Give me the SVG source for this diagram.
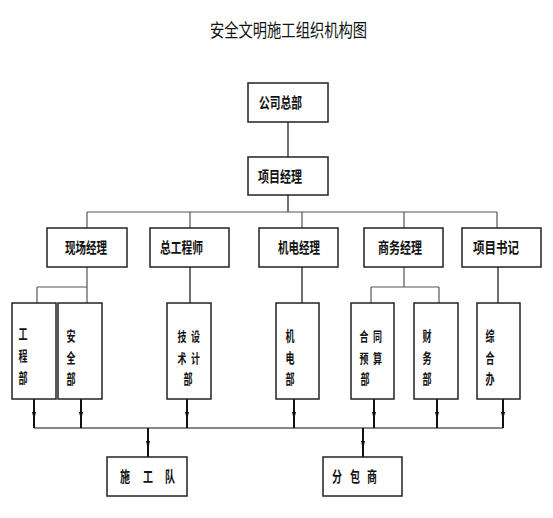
<svg xmlns="http://www.w3.org/2000/svg" width="553" height="518" viewBox="0 0 553 518">
<style>
.box{fill:#fff;stroke:#222;stroke-width:1.5}
.t{font-family:"Noto Sans CJK SC","Noto Sans CJK TC",sans-serif;font-size:15px;font-weight:bold;fill:#111}
.v{font-size:14px}
.w{font-size:13px}
.c{text-anchor:middle}
.ln{fill:none;stroke:#111;stroke-width:1.2}
.gl{fill:none;stroke:#555;stroke-width:1.2}
.al{fill:none;stroke:#111;stroke-width:2}
.ah{fill:#111}
</style>
<rect width="553" height="518" fill="#fff"/>
<text class="t" x="210" y="37" style="font-size:18px;font-weight:normal" textLength="157" lengthAdjust="spacingAndGlyphs">安全文明施工组织机构图</text>
<g id="connectors">
<path class="ln" d="M288 122V157M288 195V212"/>
<path class="gl" d="M87 212H497M87 212V228M190 212V228M302 212V228M404 212V228M497 212V228"/>
<path class="gl" d="M87 267V287M37 287H87M37 287V303M87 287V303"/>
<path class="ln" d="M190 267V303M302 267V303M498 267V303"/>
<path class="gl" d="M404 267V287M371 287H439M371 287V303M439 287V303"/>
<path class="al" d="M34 399V428M81 399V428M187 399V428M294 399V428M374 399V428M437 399V428M503 399V428"/>
<path class="ln" d="M34 428H503"/>
<path class="al" d="M148 428V457M363 428V457"/>
<g class="ah">
<path d="M32 412H36L34 420Z"/><path d="M79 412H83L81 420Z"/><path d="M185 412H189L187 420Z"/><path d="M292 412H296L294 420Z"/><path d="M372 412H376L374 420Z"/><path d="M435 412H439L437 420Z"/><path d="M501 412H505L503 420Z"/>
<path d="M146 441H150L148 449Z"/><path d="M361 441H365L363 449Z"/>
</g>
</g>
<g id="n-gszb"><rect class="box" x="248" y="83" width="80" height="39"/><text class="t" x="259" y="108" textLength="43" lengthAdjust="spacingAndGlyphs">公司总部</text></g>
<g id="n-xmjl"><rect class="box" x="248" y="157" width="80" height="38"/><text class="t" x="258" y="182" textLength="44" lengthAdjust="spacingAndGlyphs">项目经理</text></g>
<g id="n-xcjl"><rect class="box" x="47" y="228" width="80" height="39"/><text class="t" x="65" y="253" textLength="42" lengthAdjust="spacingAndGlyphs">现场经理</text></g>
<g id="n-zgcs"><rect class="box" x="150" y="228" width="79" height="39"/><text class="t" x="160" y="253" textLength="43" lengthAdjust="spacingAndGlyphs">总工程师</text></g>
<g id="n-jdjl"><rect class="box" x="259" y="228" width="79" height="39"/><text class="t" x="278" y="253" textLength="42" lengthAdjust="spacingAndGlyphs">机电经理</text></g>
<g id="n-swjl"><rect class="box" x="364" y="228" width="79" height="39"/><text class="t" x="378" y="253" textLength="44" lengthAdjust="spacingAndGlyphs">商务经理</text></g>
<g id="n-xmsj"><rect class="box" x="462" y="228" width="79" height="39"/><text class="t" x="473" y="253" textLength="46" lengthAdjust="spacingAndGlyphs">项目书记</text></g>
<g id="n-gcb"><rect class="box" x="12" y="303" width="44" height="96"/>
<text class="t v c" x="23" y="339" textLength="9" lengthAdjust="spacingAndGlyphs">工</text>
<text class="t v c" x="23" y="361" textLength="9" lengthAdjust="spacingAndGlyphs">程</text>
<text class="t v c" x="23" y="383" textLength="9" lengthAdjust="spacingAndGlyphs">部</text></g>
<g id="n-aqb"><rect class="box" x="58" y="303" width="44" height="96"/>
<text class="t v c" x="71" y="341" textLength="9" lengthAdjust="spacingAndGlyphs">安</text>
<text class="t v c" x="71" y="363" textLength="9" lengthAdjust="spacingAndGlyphs">全</text>
<text class="t v c" x="71" y="384" textLength="9" lengthAdjust="spacingAndGlyphs">部</text></g>
<g id="n-jssjb"><rect class="box" x="167" y="303" width="44" height="96"/>
<text class="t w c" x="182" y="341" textLength="9" lengthAdjust="spacingAndGlyphs">技</text>
<text class="t w c" x="195.5" y="341" textLength="9" lengthAdjust="spacingAndGlyphs">设</text>
<text class="t w c" x="182" y="363" textLength="9" lengthAdjust="spacingAndGlyphs">术</text>
<text class="t w c" x="195.5" y="363" textLength="9" lengthAdjust="spacingAndGlyphs">计</text>
<text class="t v c" x="188" y="384" textLength="9" lengthAdjust="spacingAndGlyphs">部</text></g>
<g id="n-jdb"><rect class="box" x="276" y="303" width="43" height="96"/>
<text class="t v c" x="290" y="341" textLength="9" lengthAdjust="spacingAndGlyphs">机</text>
<text class="t v c" x="290" y="363" textLength="9" lengthAdjust="spacingAndGlyphs">电</text>
<text class="t v c" x="290" y="384" textLength="9" lengthAdjust="spacingAndGlyphs">部</text></g>
<g id="n-htysb"><rect class="box" x="351" y="303" width="43" height="96"/>
<text class="t w c" x="364" y="341" textLength="9" lengthAdjust="spacingAndGlyphs">合</text>
<text class="t w c" x="377.5" y="341" textLength="9" lengthAdjust="spacingAndGlyphs">同</text>
<text class="t w c" x="364" y="363" textLength="9" lengthAdjust="spacingAndGlyphs">预</text>
<text class="t w c" x="377.5" y="363" textLength="9" lengthAdjust="spacingAndGlyphs">算</text>
<text class="t v c" x="365" y="384" textLength="9" lengthAdjust="spacingAndGlyphs">部</text></g>
<g id="n-cwb"><rect class="box" x="414" y="303" width="44" height="96"/>
<text class="t v c" x="427" y="341" textLength="9" lengthAdjust="spacingAndGlyphs">财</text>
<text class="t v c" x="427" y="363" textLength="9" lengthAdjust="spacingAndGlyphs">务</text>
<text class="t v c" x="427" y="384" textLength="9" lengthAdjust="spacingAndGlyphs">部</text></g>
<g id="n-zhb"><rect class="box" x="477" y="303" width="43" height="96"/>
<text class="t v c" x="490" y="341" textLength="9" lengthAdjust="spacingAndGlyphs">综</text>
<text class="t v c" x="490" y="363" textLength="9" lengthAdjust="spacingAndGlyphs">合</text>
<text class="t v c" x="490" y="384" textLength="9" lengthAdjust="spacingAndGlyphs">办</text></g>
<g id="n-sgd"><rect class="box" x="107" y="457" width="80" height="39"/>
<text class="t c" x="125" y="482" textLength="10" lengthAdjust="spacingAndGlyphs">施</text>
<text class="t c" x="148" y="482" textLength="10" lengthAdjust="spacingAndGlyphs">工</text>
<text class="t c" x="170" y="482" textLength="10" lengthAdjust="spacingAndGlyphs">队</text></g>
<g id="n-fbs"><rect class="box" x="323" y="457" width="79" height="39"/>
<text class="t c" x="337" y="482" textLength="10" lengthAdjust="spacingAndGlyphs">分</text>
<text class="t c" x="355" y="482" textLength="10" lengthAdjust="spacingAndGlyphs">包</text>
<text class="t c" x="372" y="482" textLength="10" lengthAdjust="spacingAndGlyphs">商</text></g>
</svg>
